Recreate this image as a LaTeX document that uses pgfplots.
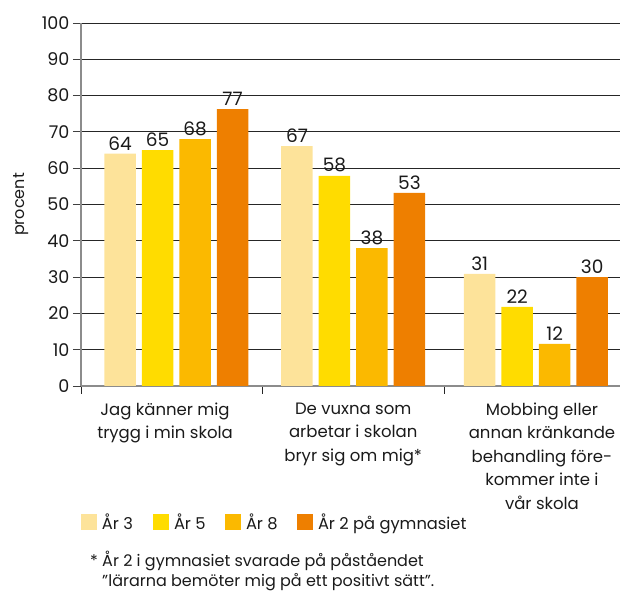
\documentclass[border=0pt]{standalone}
\usepackage{pgfplots}
\pgfplotsset{compat=1.18}
\usepackage{fontspec}
\setmainfont{Poppins}
\definecolor{c1}{HTML}{FDE39A}
\definecolor{c2}{HTML}{FFDC00}
\definecolor{c3}{HTML}{FBB900}
\definecolor{c4}{HTML}{EE7F00}
\definecolor{txt}{HTML}{1A1A1A}
\pgfplotsset{sq/.style={legend image code/.code={\fill[#1] (0pt,-8pt) rectangle (16pt,8pt);}}}
% x, bar height, printed value
\pgfplotstableread{
x y l
0.025 64 64
1 66.1 67
2.007 30.9 31
}\arthree
\pgfplotstableread{
x y l
0.025 65 65
1 57.9 58
2.007 21.8 22
}\arfive
\pgfplotstableread{
x y l
0.025 68 68
1 38 38
2.007 11.6 12
}\areight
\pgfplotstableread{
x y l
0.025 76.3 77
1 53.2 53
2.007 30 30
}\artwo
\begin{document}
\begin{tikzpicture}
\path[use as bounding box] (-81pt,-207pt) rectangle (539pt,386pt);
\begin{axis}[
  at={(0pt,0pt)}, anchor=south west,
  scale only axis, width=539pt, height=363pt,
  xmin=-0.5, xmax=2.47, ymin=0, ymax=100,
  ybar=6pt, bar width=31.5pt,
  axis lines=left,
  axis line style={draw=black!45, line width=2pt, -},
  ytick={0,10,...,100},
  ymajorgrids, grid style={draw=black!85, line width=0.8pt},
  major tick length=8pt, minor tick length=8pt, tick align=outside,
  ytick style={draw=black!75, line width=0.8pt},
  xtick={-0.037,1,2.04},
  minor xtick={-0.5,0.5,1.5},
  major x tick style={draw=none},
  minor x tick style={draw=black!85, line width=0.8pt},
  xticklabels={{Jag känner mig\\trygg i min skola},{De vuxna som\\arbetar i skolan\\bryr sig om mig*},{Mobbing eller\\annan kränkande\\behandling före-\\kommer inte i\\vår skola}},
  xticklabel style={align=center, anchor=north, yshift=-5pt, font=\fontsize{16.5}{23.6}\selectfont, text=txt},
  yticklabel style={font=\fontsize{17.5}{20}\selectfont, text=txt},
  point meta=explicit,
  nodes near coords={\pgfmathprintnumber{\pgfplotspointmeta}},
  every node near coord/.append style={font=\fontsize{18.5}{21}\selectfont, text=txt},
  /pgf/number format/assume math mode=true,
  legend columns=4,
  legend style={at={(rel axis cs:0,0)}, anchor=west, yshift=-136pt, draw=none, fill=none,
    inner sep=0pt, outer sep=0pt, font=\fontsize{16.3}{19}\selectfont, text=txt,
    nodes={inner sep=0pt},
    /tikz/every odd column/.append style={column sep=5pt},
    /tikz/every even column/.append style={column sep=14pt}},
  legend cell align=left,
]
\addplot[fill=c1, draw=none, sq=c1] table[x=x, y=y, meta=l] {\arthree};
\addplot[fill=c2, draw=none, sq=c2] table[x=x, y=y, meta=l] {\arfive};
\addplot[fill=c3, draw=none, sq=c3] table[x=x, y=y, meta=l] {\areight};
\addplot[fill=c4, draw=none, sq=c4] table[x=x, y=y, meta=l] {\artwo};
\legend{\makebox[37pt][l]{År 3}, \makebox[37pt][l]{År 5}, \makebox[37pt][l]{År 8}, År 2 på gymnasiet}
\end{axis}
\node[rotate=90, text=txt, font=\fontsize{16}{19}\selectfont] at (-59.5pt,181.5pt) {procent};
\node[anchor=north west, text=txt, font=\fontsize{16}{20}\selectfont, inner sep=0pt] at (9pt,-165pt)
  {\begin{tabular}{@{}l@{ }l@{}}*&År 2 i gymnasiet svarade på påståendet\\ &”lärarna bemöter mig på ett positivt sätt”.\end{tabular}};
\end{tikzpicture}
\end{document}
